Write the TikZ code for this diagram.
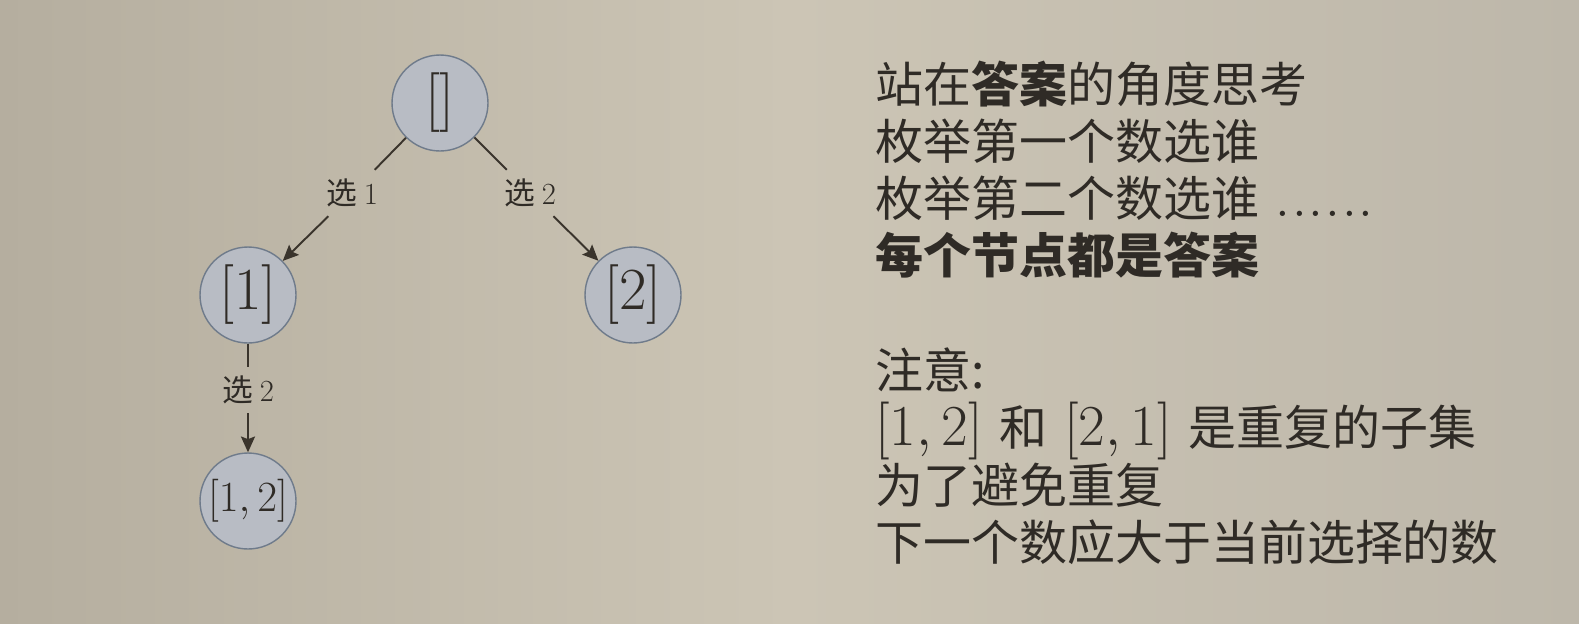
\RequirePackage{fix-cm}
\documentclass[tikz,border=0pt]{standalone}
\usepackage{fontspec}
\newfontfamily\cjk{Noto Sans CJK SC}
\usetikzlibrary{arrows.meta,calc,positioning}
\definecolor{bgmid}{HTML}{CCC5B5}
\definecolor{bgside}{HTML}{B5AE9F}
\definecolor{bgright}{HTML}{BDB7AA}
\definecolor{ink}{HTML}{2F2B26}
\definecolor{edgec}{HTML}{3A342C}
\definecolor{nodefill}{HTML}{B8BCC4}
\definecolor{nodeline}{HTML}{6F7B8B}
\newcommand{\setmath}[1]{{\fontsize{33}{32.5}\selectfont$#1$}}
\newcommand{\sixdots}{{\fontsize{31}{32.5}\selectfont$.\mkern0.6mu.\mkern0.6mu.\mkern0.6mu.\mkern0.6mu.\mkern0.6mu.$}}
\begin{document}
\begin{tikzpicture}[x=0.02cm,y=-0.02cm,line join=round,
	vert/.style={circle,draw=nodeline,fill=nodefill,line width=0.8pt,minimum size=1.92cm,inner sep=0pt,text=ink,font=\fontsize{34}{36}\selectfont},
	choice/.style={inner sep=5pt,text=ink,font=\cjk\fontsize{17.5}{20}\selectfont},
	link/.style={draw=edgec,line width=1.1pt},
	line/.style={anchor=base west,inner sep=0pt,text=ink,font=\cjk\fontsize{27.3}{32.5}\selectfont}]
		\useasboundingbox (0,0) rectangle (1579,623);
		\fill[left color=bgside,right color=bgright,middle color=bgmid] (0,0) rectangle (1579,623);
		% tree
		\node[vert] (root) at (440,103) {$[]$};
		\node[vert] (n1) at (248,295) {$[1]$};
		\node[vert] (n2) at (633,295) {$[2]$};
		\node[vert,font=\fontsize{24.5}{26}\selectfont] (n12) at (248,501) {$[1,2]$};
		\node[choice] (c1) at (352,193) {选 $1$};
		\node[choice] (c2) at (530,193) {选 $2$};
		\node[choice] (c3) at (248,390) {选 $2$};
		\foreach \a/\b/\c in {root/c1/n1,root/c2/n2,n1/c3/n12}{
			\draw[link] (\a)--(\b);
			\draw[link,-{Stealth[length=9pt,width=8pt,inset=1.5pt]}] (\b)--(\c);}
		% notes
		\foreach \k/\t in {0/{站在{\bfseries 答案}的角度思考},1/{枚举第一个数选谁},2/{枚举第二个数选谁\hspace{0.35em}\sixdots},3/{{\bfseries 每个节点都是答案}},5/{注意:},6/{\setmath{[1,2]}\hspace{0.35em}和\hspace{0.35em}\setmath{[2,1]}\hspace{0.35em}是重复的子集},7/{为了避免重复},8/{下一个数应大于当前选择的数}}{
			\node[line] (t\k) at (875,102+57.3*\k) {\t};}
\end{tikzpicture}
\end{document}
